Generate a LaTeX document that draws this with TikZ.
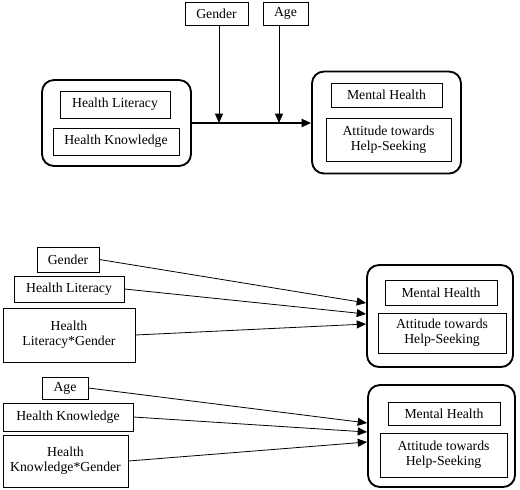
\documentclass[tikz,border=0pt]{standalone}
\usepackage{fontspec}
\setmainfont{Liberation Serif}
\usetikzlibrary{positioning, arrows.meta, calc}

\begin{document}
\begin{tikzpicture}[x=0.75pt,y=-0.75pt,>={Triangle[length=7pt,width=6pt]},
    font=\fontsize{10.3}{11.5}\selectfont]
        \tikzstyle{var}=[draw,line width=0.6pt,inner sep=0pt,align=center]
        \tikzstyle{group}=[draw,line width=1.4pt,rounded corners=9pt,inner sep=0pt]
        \tikzstyle{link}=[->,line width=0.6pt]
        \useasboundingbox (0,0) rectangle (520,489);

        % model
        \node[var,minimum width=63*0.75pt,minimum height=23*0.75pt] (gen1) at (216.5,13.5) {Gender};
        \node[var,minimum width=45*0.75pt,minimum height=23*0.75pt] (age1) at (285.5,13.5) {Age};
        \node[group,minimum width=149*0.75pt,minimum height=86*0.75pt] (pred1) at (116.5,123) {};
        \node[var,minimum width=110*0.75pt,minimum height=27*0.75pt] (hl1) at (115,104.5) {Health Literacy};
        \node[var,minimum width=126*0.75pt,minimum height=27*0.75pt] (hk1) at (116,141.5) {Health Knowledge};
        \node[group,minimum width=149*0.75pt,minimum height=102*0.75pt] (outc1) at (386.5,122.5) {};
        \node[var,minimum width=111*0.75pt,minimum height=24*0.75pt] (mh1) at (386.5,95) {Mental Health};
        \node[var,minimum width=125*0.75pt,minimum height=43*0.75pt] (ahs1) at (388.5,139.5) {Attitude towards\\Help-Seeking};

        \draw[->,line width=1.3pt] (pred1.east) -- (pred1.east -| outc1.west);
        \draw[link] ($(gen1.south)+(2.5,0)$) -- ($(gen1.south |- pred1.east)+(2.5,0)$);
        \draw[link] ($(age1.south)+(-6.5,0)$) -- ($(age1.south |- pred1.east)+(-6.5,0)$);

        % health literacy
        \node[var,minimum width=62*0.75pt,minimum height=25*0.75pt] (gen2) at (68,259.5) {Gender};
        \node[var,minimum width=110*0.75pt,minimum height=26*0.75pt] (hl2) at (69,289) {Health Literacy};
        \node[var,minimum width=132*0.75pt,minimum height=54*0.75pt] (hlg2) at (69,335) {Health\\Literacy*Gender};
        \node[group,minimum width=146*0.75pt,minimum height=102*0.75pt] (outc2) at (440,316) {};
        \node[var,minimum width=112*0.75pt,minimum height=25*0.75pt] (mh2) at (441,292.5) {Mental Health};
        \node[var,minimum width=128*0.75pt,minimum height=40*0.75pt] (ahs2) at (442,333) {Attitude towards\\Help-Seeking};

        \draw[link] (gen2.east) -- ($(outc2.west)+(0,-13)$);
        \draw[link] (hl2.east) -- ($(outc2.west)+(0,-2)$);
        \draw[link] (hlg2.east) -- ($(outc2.west)+(0,8)$);

        % health knowledge
        \node[var,minimum width=46*0.75pt,minimum height=22*0.75pt] (age3) at (65,388) {Age};
        \node[var,minimum width=130*0.75pt,minimum height=28*0.75pt] (hk3) at (68,417) {Health Knowledge};
        \node[var,minimum width=125*0.75pt,minimum height=52*0.75pt] (hkg3) at (65.5,461) {Health\\Knowledge*Gender};
        \node[group,minimum width=147*0.75pt,minimum height=102*0.75pt] (outc3) at (441.5,436) {};
        \node[var,minimum width=112*0.75pt,minimum height=23*0.75pt] (mh3) at (444,413.5) {Mental Health};
        \node[var,minimum width=127*0.75pt,minimum height=44*0.75pt] (ahs3) at (443.5,455) {Attitude towards\\Help-Seeking};

        \draw[link] (age3.east) -- ($(outc3.west)+(0,-13)$);
        \draw[link] (hk3.east) -- ($(outc3.west)+(0,-4)$);
        \draw[link] (hkg3.east) -- ($(outc3.west)+(0,6)$);
    \end{tikzpicture}
\end{document}
